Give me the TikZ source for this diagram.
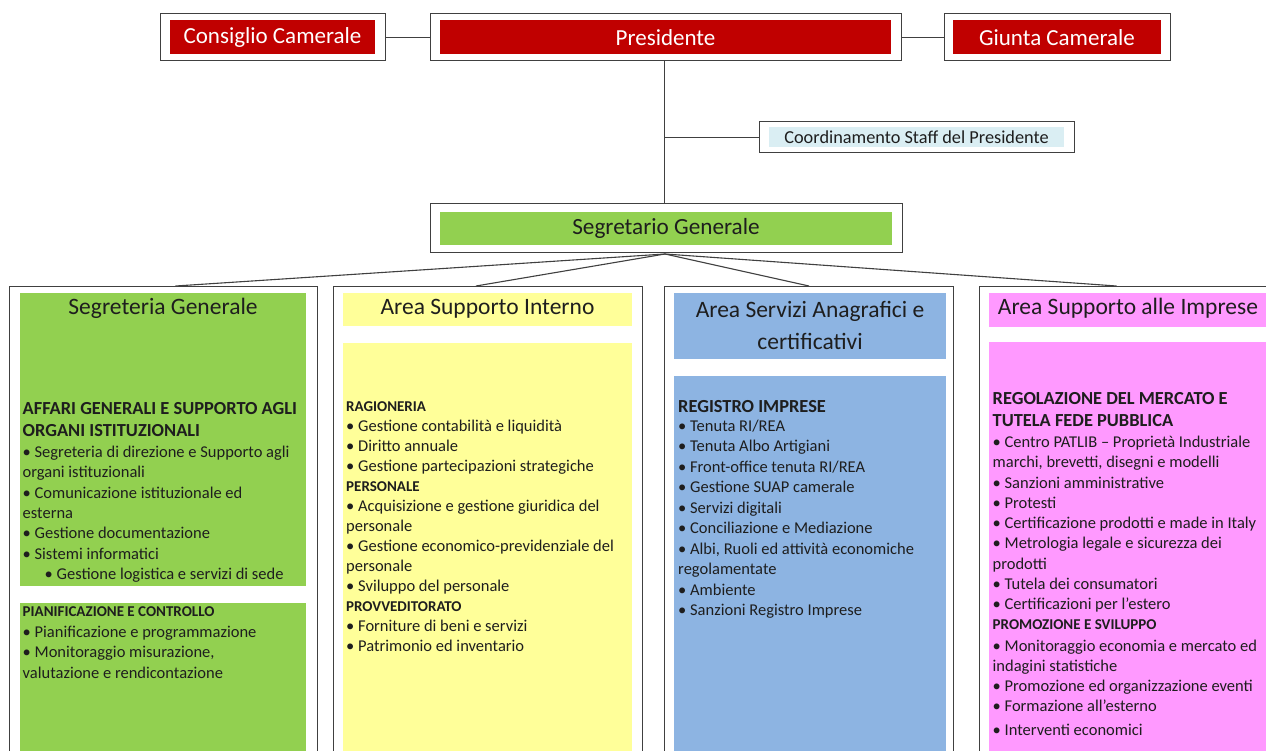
\documentclass[tikz,border=0pt]{standalone}
\usepackage{fontspec}
\setmainfont{Carlito}
\usetikzlibrary{positioning}

\definecolor{camred}{HTML}{C00000}
\definecolor{segreen}{HTML}{92D050}
\definecolor{areayellow}{HTML}{FFFF99}
\definecolor{areablue}{HTML}{8DB4E2}
\definecolor{areapink}{HTML}{FF99FF}
\definecolor{staffblue}{HTML}{DAEEF3}
\definecolor{framegray}{HTML}{404040}
\definecolor{textdark}{HTML}{1E1E1E}

\begin{document}
\begin{tikzpicture}[x=1pt,y=-1pt,
  frame/.style={draw=framegray, line width=1pt, fill=white, inner sep=0pt},
  inset/.style n args={3}{path picture={\fill[#1]
      ([shift={(#2,#3)}]path picture bounding box.south west) rectangle
      ([shift={(-#2,-#3)}]path picture bounding box.north east);}},
  topbox/.style={frame, minimum height=47pt, text=white, font=\fontsize{23}{26}\selectfont},
  column/.style={frame, anchor=north west, minimum height=480pt},
  title/.style={align=center, inner sep=0pt, text=textdark, font=\fontsize{23.5}{32}\selectfont},
  % multi-line nodes: base = baseline of the last line
  bighead/.style={anchor=base west, align=left, inner sep=0pt, text=textdark, font=\fontsize{18.4}{22}\selectfont\bfseries},
  smallhead/.style={anchor=base west, align=left, inner sep=0pt, text=textdark, font=\fontsize{15}{20}\selectfont\bfseries},
  list/.style={anchor=base west, align=left, inner sep=0pt, text=textdark, font=\fontsize{16.5}{20.3}\selectfont},
  link/.style={draw=framegray, line width=1.1pt}
]
\useasboundingbox (0,0) rectangle (1266,751);
\fill[white] (0,0) rectangle (1266,751);

% top level
\node[topbox, minimum width=225pt, inset={camred}{10pt}{6.5pt}] (consiglio) at (272.5,37.5) {Consiglio Camerale};
\node[topbox, minimum width=471pt, inset={camred}{10pt}{6.5pt}] (pres) at (665.5,37.5) {Presidente};
\node[topbox, minimum width=226pt, inset={camred}{9pt}{6.5pt}] (giunta) at (1057,37.5) {Giunta Camerale};
\node[frame, minimum width=315pt, minimum height=31pt, inset={staffblue}{10pt}{5.5pt},
      font=\fontsize{18.3}{20}\selectfont, text=textdark] (staff) at (916.5,137.5) {Coordinamento Staff del Presidente};
\node[frame, minimum width=472pt, minimum height=49pt, inset={segreen}{10pt}{8pt},
      font=\fontsize{23.2}{26}\selectfont, text=textdark] (segr) at (666,228.5) {Segretario Generale};

\draw[link] (consiglio) -- (pres);
\draw[link] (pres) -- (giunta);
\coordinate (staffjoin) at ([xshift=-1pt]pres.south |- staff.west);
\draw[link] ([xshift=-1pt]pres.south) -- ([xshift=-1pt]pres.south |- segr.north);
\draw[link] (staffjoin) -- (staff.west);

% areas
\node[column, minimum width=308pt] (col1) at (9,286) {};
\node[column, minimum width=309pt] (col2) at (333,286) {};
\node[column, minimum width=289pt] (col3) at (664,286) {};
\node[column, minimum width=300pt] (col4) at (979,286) {};

\foreach \c/\dx in {col1/12, col2/-12, col3/0, col4/-13}
  \draw[link] ([xshift=-1pt,yshift=-0.5pt]segr.south) -- ([xshift=\dx pt]\c.north);

\fill[segreen] (20,293) rectangle (306,586);
\fill[segreen] (20,603) rectangle (306,760);
\fill[areayellow] (343,293) rectangle (632,326);
\fill[areayellow] (343,343) rectangle (632,760);
\fill[areablue] (674,293) rectangle (946,359);
\fill[areablue] (674,376) rectangle (946,760);
\fill[areapink] (989,293) rectangle (1270,327);
\fill[areapink] (989,342) rectangle (1270,760);

% titles
\node[title] (t1) at (163,308) {Segreteria Generale};
\node[title] (t2) at (487.5,309) {Area Supporto Interno};
\node[title] (t3) at (810,325) {Area Servizi Anagrafici e\\certificativi};
\node[title] (t4) at (1128,308.5) {Area Supporto alle Imprese};

% Segreteria Generale
\node[bighead] (c1h1) at (22.5,436) {AFFARI GENERALI E SUPPORTO AGLI\\ORGANI ISTITUZIONALI};
\node[list] (c1l1) at (22.5,579.3) {• Segreteria di direzione e Supporto agli\\organi istituzionali\\• Comunicazione istituzionale ed\\esterna\\• Gestione documentazione\\• Sistemi informatici\\\hspace*{22pt}• Gestione logistica e servizi di sede};
\node[smallhead] (c1h2) at (22.5,616.8) {PIANIFICAZIONE E CONTROLLO};
\node[list] (c1l2) at (22.5,678.1) {• Pianificazione e programmazione\\• Monitoraggio misurazione,\\valutazione e rendicontazione};

% Area Supporto Interno
\node[list, font=\fontsize{16.5}{19.97}\selectfont] (c2l) at (346,651.5) {{\fontsize{15}{15}\selectfont\bfseries RAGIONERIA}\\• Gestione contabilità e liquidità\\• Diritto annuale\\• Gestione partecipazioni strategiche\\{\fontsize{15}{15}\selectfont\bfseries PERSONALE}\\• Acquisizione e gestione giuridica del\\personale\\• Gestione economico-previdenziale del\\personale\\• Sviluppo del personale\\{\fontsize{15}{15}\selectfont\bfseries PROVVEDITORATO}\\• Forniture di beni e servizi\\• Patrimonio ed inventario};

% Area Servizi Anagrafici e certificativi
\node[bighead] (c3h) at (678,412) {REGISTRO IMPRESE};
\node[list, font=\fontsize{16.5}{20.44}\selectfont] (c3l) at (678,615.5) {• Tenuta RI/REA\\• Tenuta Albo Artigiani\\• Front-office tenuta RI/REA\\• Gestione SUAP camerale\\• Servizi digitali\\• Conciliazione e Mediazione\\• Albi, Ruoli ed attività economiche\\regolamentate\\• Ambiente\\• Sanzioni Registro Imprese};

% Area Supporto alle Imprese
\node[bighead] (c4h1) at (992.5,426) {REGOLAZIONE DEL MERCATO E\\TUTELA FEDE PUBBLICA};
\node[list, font=\fontsize{16.5}{20.25}\selectfont] (c4l1) at (992.5,609.5) {• Centro PATLIB – Proprietà Industriale\\marchi, brevetti, disegni e modelli\\• Sanzioni amministrative\\• Protesti\\• Certificazione prodotti e made in Italy\\• Metrologia legale e sicurezza dei\\prodotti\\• Tutela dei consumatori\\• Certificazioni per l’estero};
\node[smallhead] (c4h2) at (992.5,629.8) {PROMOZIONE E SVILUPPO};
\node[list, font=\fontsize{16.5}{20}\selectfont] (c4l2) at (992.5,735.5) {• Monitoraggio economia e mercato ed\\indagini statistiche\\• Promozione ed organizzazione eventi\\• Formazione all’esterno\\[4pt]• Interventi economici};
\end{tikzpicture}
\end{document}
